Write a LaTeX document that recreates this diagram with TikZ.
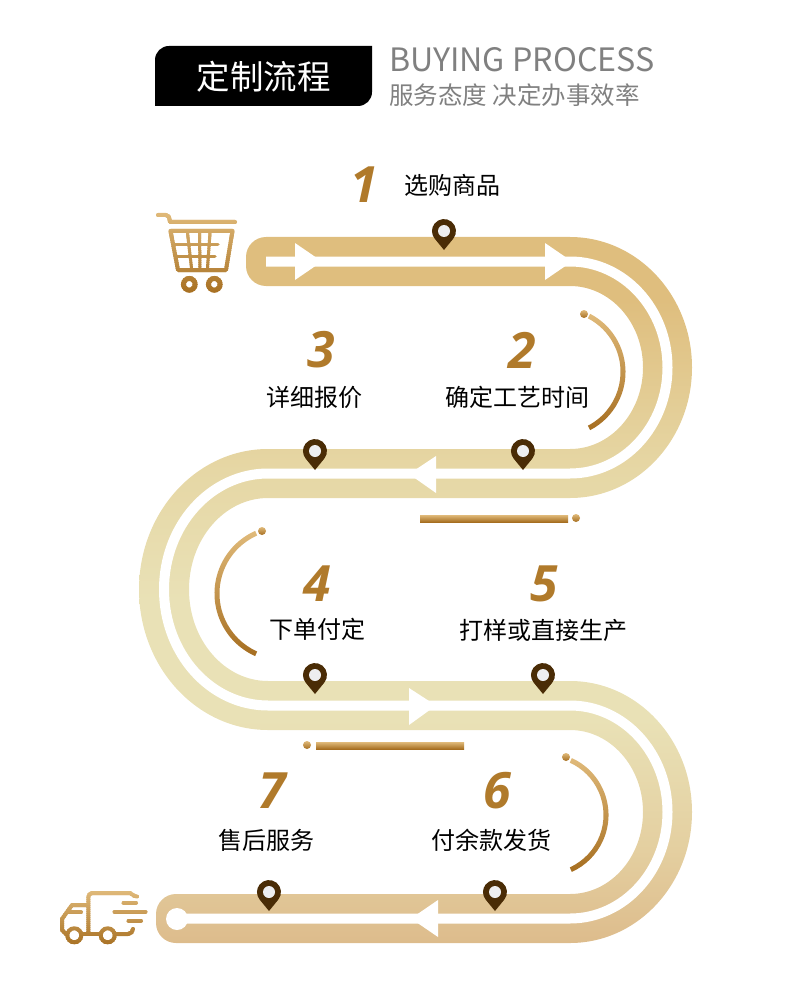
\documentclass[tikz,border=0pt]{standalone}
\usepackage{fontspec}
\setmainfont{Noto Sans CJK SC}
\newfontfamily\numfont{Open Sans}
\usetikzlibrary{positioning}
\definecolor{roadtop}{RGB}{223,190,126}
\definecolor{roadup}{RGB}{230,215,165}
\definecolor{roadmid}{RGB}{233,225,182}
\definecolor{roadlow}{RGB}{228,207,160}
\definecolor{roadbot}{RGB}{221,188,140}
\definecolor{goldlight}{RGB}{224,186,122}
\definecolor{golddark}{RGB}{166,110,32}
\definecolor{numcolor}{RGB}{176,122,43}
\definecolor{pincolor}{RGB}{74,44,6}
\definecolor{pineye}{RGB}{238,238,240}
\pgfdeclareverticalshading{roadshade}{100bp}{color(0bp)=(roadbot); color(25bp)=(roadbot); color(31.6bp)=(roadlow); color(40.8bp)=(roadmid); color(49.3bp)=(roadmid); color(58.5bp)=(roadup); color(70.5bp)=(roadtop); color(100bp)=(roadtop)}
\tikzset{
  stepnum/.style   = {font=\numfont\fontsize{50}{50}\selectfont\bfseries\itshape, text=numcolor, inner sep=0pt},
  steptext/.style  = {font=\fontsize{24}{24}\selectfont, text=black, inner sep=0pt},
  golddot/.style   = {top color=goldlight, bottom color=golddark},
  roadtip/.style   = {fill=white},
  iconline/.style  = {line width=4pt, line cap=round, line join=round},
  gridline/.style  = {line width=3pt, line cap=round},
  pin/.pic = {
    \fill[pincolor] (0,0) -- (9.3,-11.4) arc (39:-219:12) -- cycle;
    \fill[pineye] (0,-19) circle (6);
  },
}
% strokes cut into thin bands, so that they can run from light to dark
\newcommand{\goldbands}[3]{%
  \foreach \i in {0,...,#2}{
    \pgfmathsetmacro\bandy{#1+\i*2}
    \pgfmathtruncatemacro\bandmix{100*\i/#2}
    \begin{scope}[color=golddark!\bandmix!goldlight]
      \clip (0,\bandy) rectangle (790,\bandy+2.6);
      #3
    \end{scope}
  }%
}
\newcommand{\goldarc}[5]{%
  \shade[golddot] (#1,#2) ++(#3:#5+2.5) arc (#3:#4:#5+2.5) -- ++(#4:-5) arc (#4:#3:#5-2.5) -- cycle;
}
\begin{document}
\begin{tikzpicture}[x=1pt,y=-1pt]
  \useasboundingbox (0,0) rectangle (790,992);

  % header
  \fill[black] (155,106) -- (155,60) arc (180:270:14) -- (372,46) -- (372,92) arc (0:90:14) -- cycle;
  \node[font=\fontsize{33.5}{34}\selectfont, text=white, inner sep=0pt] (title) at (263.5,77) {定制流程};
  \node[font=\fontsize{32.2}{33}\selectfont, text=black!50, inner sep=0pt, anchor=west] (titleen) at (389,59.5) {BUYING PROCESS};
  \node[font=\fontsize{24.5}{25}\selectfont, text=black!50, inner sep=0pt, anchor=west] (subtitle) at (389,95) {服务态度 决定办事效率};

  % road
  \shade[shading=roadshade]
    (266,237) -- (570,237) arc (-90:90:122 and 130.5)
    -- (268,498) arc (-90:-270:79 and 91.5)
    -- (570,681) arc (-90:90:122 and 131)
    -- (176,943) arc (90:180:20) -- (156,914) arc (180:270:20)
    -- (570,894) arc (90:-90:73 and 82)
    -- (268,730) arc (-270:-90:129 and 140.5)
    -- (570,449) arc (90:-90:73 and 81.5)
    -- (266,286) arc (90:180:20) -- (246,257) arc (180:270:20) -- cycle;
  \draw[white, line width=10pt]
    (266,261.5) -- (570,261.5) arc (-90:90:97.5 and 106)
    -- (268,473.5) arc (-90:-270:104 and 116)
    -- (570,705.5) arc (-90:90:97.5 and 106.5)
    -- (177,918.5);
  \fill[white] (177,919) circle (11);
  \fill[roadtip] (295,243) -- (322,261.5) -- (295,280) -- cycle;
  \fill[roadtip] (545,243) -- (572,261.5) -- (545,280) -- cycle;
  \fill[roadtip] (436,456) -- (409,474) -- (436,493) -- cycle;
  \fill[roadtip] (409,688) -- (436,705.5) -- (409,725) -- cycle;
  \fill[roadtip] (438,900) -- (411,918.5) -- (438,937) -- cycle;

  % pins
  \pic at (444,250) {pin};
  \pic at (523,470) {pin};
  \pic at (315,470) {pin};
  \pic at (315,694) {pin};
  \pic at (543,694) {pin};
  \pic at (269,911) {pin};
  \pic at (495,911) {pin};

  % arcs and bars
  \goldarc{560}{372}{-62.6}{62.6}{63}
  \shade[golddot] (584,314) circle (4);
  \goldarc{283}{593.5}{114}{246}{66}
  \shade[golddot] (262,531) circle (4);
  \goldarc{546}{815}{-65.6}{65.6}{60}
  \shade[golddot] (566,757) circle (4);
  \shade[golddot] (420,515) rectangle (568,522);
  \shade[golddot] (576,518) circle (4);
  \shade[golddot] (316,742) rectangle (464,749);
  \shade[golddot] (307,745) circle (4);

  % step numbers and labels
  \node[stepnum] (num1) at (364,185) {1};
  \node[steptext] (text1) at (452,185) {选购商品};
  \node[stepnum] (num2) at (522,350) {2};
  \node[steptext] (text2) at (517,397) {确定工艺时间};
  \node[stepnum] (num3) at (321,350) {3};
  \node[steptext] (text3) at (314,397) {详细报价};
  \node[stepnum] (num4) at (317,584) {4};
  \node[steptext] (text4) at (317.5,629) {下单付定};
  \node[stepnum] (num5) at (544,584) {5};
  \node[steptext] (text5) at (543,630) {打样或直接生产};
  \node[stepnum] (num6) at (497,791) {6};
  \node[steptext] (text6) at (491.5,840) {付余款发货};
  \node[stepnum] (num7) at (272,791) {7};
  \node[steptext] (text7) at (266,840) {售后服务};

  % cart
  \goldbands{212}{41}{%
    \draw[iconline] (158,215) -- (166,215) .. controls (169,215) and (169,217) .. (170,222) -- (235,222);
    \draw[iconline] (170.5,231) -- (232.5,231) -- (226,270) -- (178,270) -- cycle;
    \draw[gridline] (187.5,233) -- (191.5,268);
    \draw[gridline] (199.5,233) -- (200,268);
    \draw[gridline] (210,233) -- (207.5,268);
    \draw[gridline] (174,244) -- (218,244);
    \draw[gridline] (177,256) -- (215,256);
    \draw[line width=5pt] (189.3,284.3) circle (5.8);
    \draw[line width=5pt] (214.3,284.3) circle (5.8);
  }

  % truck
  \goldbands{889}{29}{%
    \draw[iconline] (88.3,932) -- (88.3,897) arc (180:270:4) -- (130,893) .. controls (132,893) and (132,896) .. (137,896.5);
    \draw[iconline] (88,905) -- (72,905) -- (62,919) -- (62,930) -- (67,935);
    \draw[iconline] (68,912) -- (81,912);
    \draw[iconline] (82,934) -- (100,934);
    \draw[iconline] (115,934) -- (128,934) arc (90:0:5);
    \draw[iconline] (123.5,903) -- (136,903);
    \draw[iconline] (114.5,911.5) -- (145.5,911.5);
    \draw[iconline] (128.5,921) -- (141,921);
    \draw[line width=4pt] (74.3,935.3) circle (7);
    \draw[line width=4pt] (107.7,935.3) circle (7);
  }
\end{tikzpicture}
\end{document}
